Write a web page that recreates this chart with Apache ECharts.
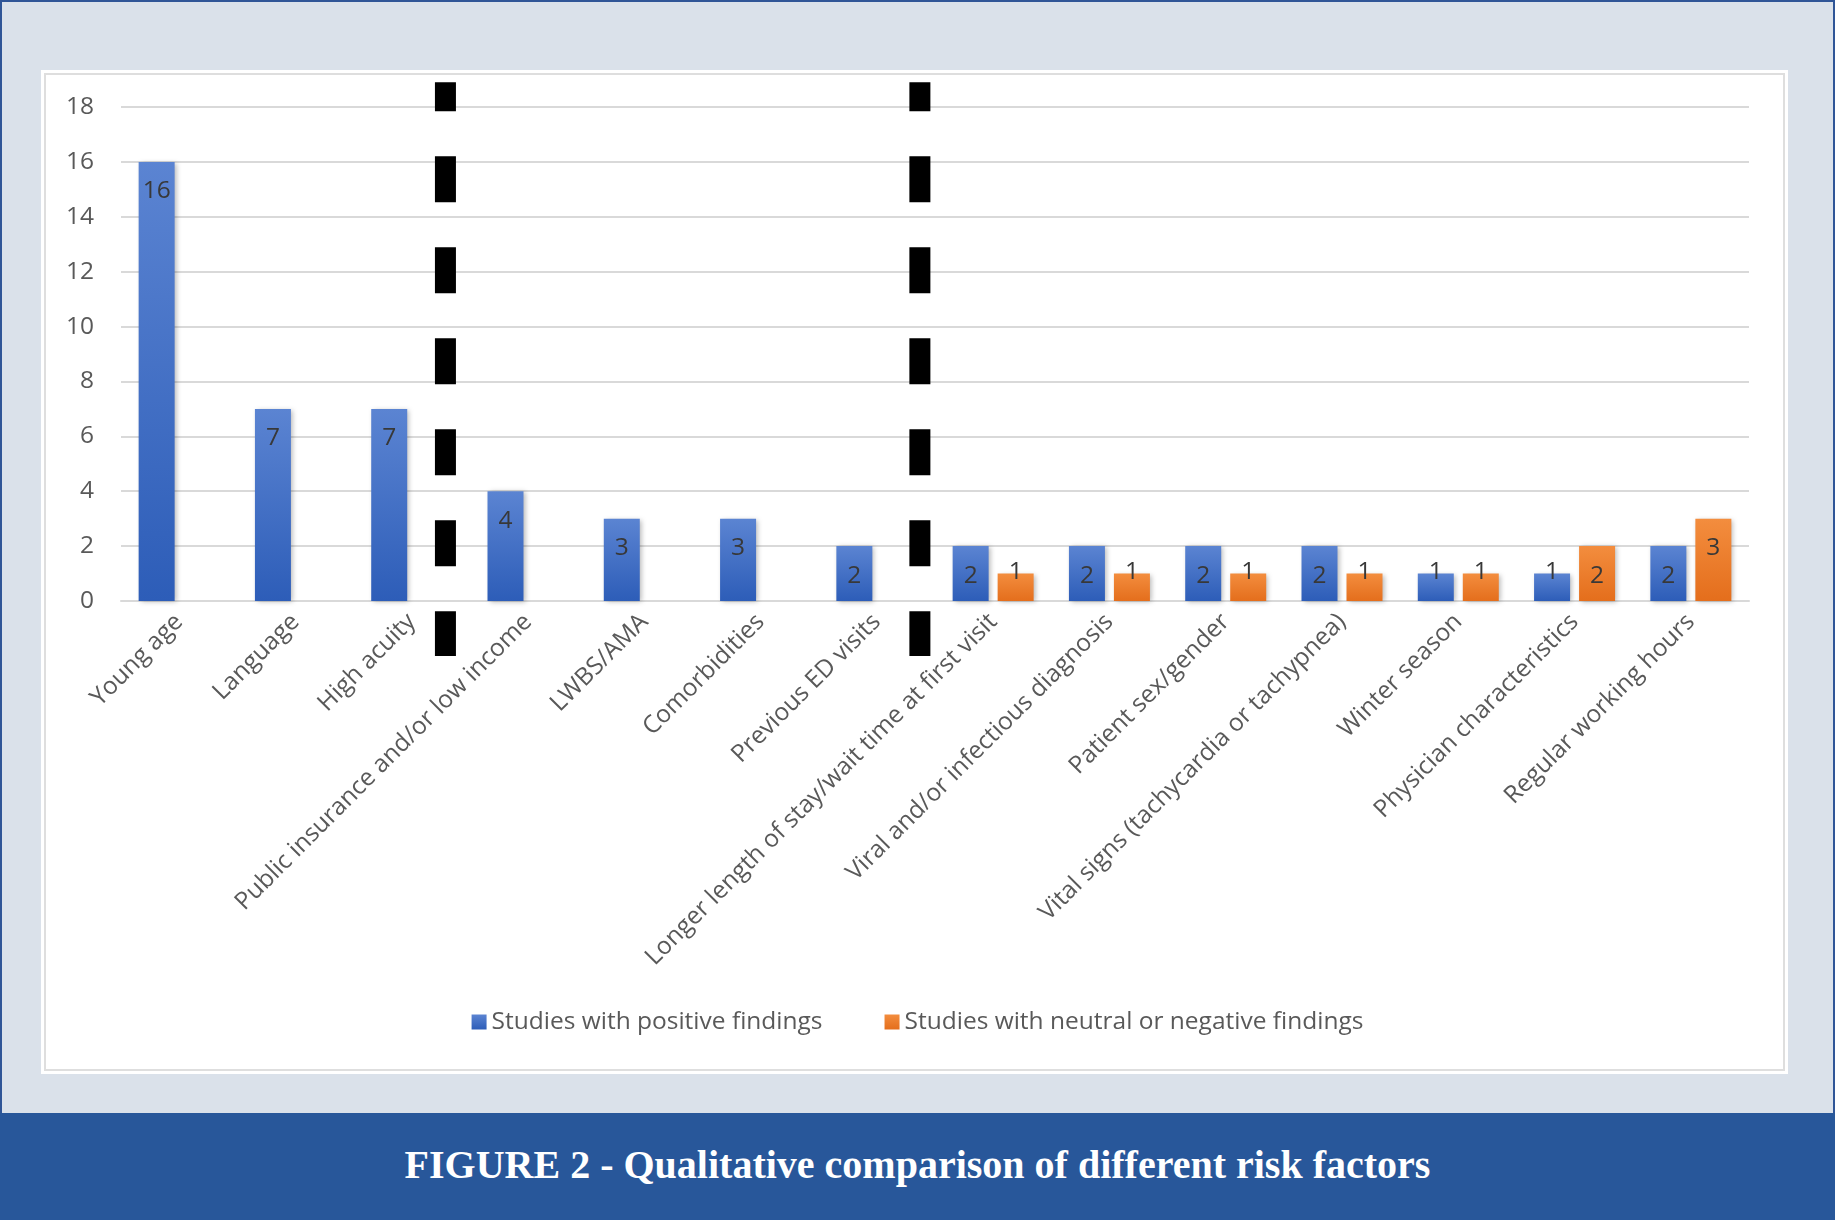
<!DOCTYPE html>
<html>
<head>
<meta charset="utf-8">
<script src="https://cdn.jsdelivr.net/npm/echarts@6/dist/echarts.min.js"></script>
<style>
    html, body {
        margin: 0;
        padding: 0;
        width: 1835px;
        height: 1220px;
        overflow: hidden;
    }
    #page {
        position: relative;
        width: 1835px;
        height: 1220px;
        box-sizing: border-box;
        background: #dae1ea;
        border: 2px solid #2f5597;
    }
    #panel {
        position: absolute;
        left: 39px;
        top: 68px;
        width: 1747px;
        height: 1004px;
        background: #ffffff;
        box-sizing: border-box;
        padding: 3px;
    }
    #panel-inner {
        width: 100%;
        height: 100%;
        box-sizing: border-box;
        border: 2px solid #dedede;
    }
    #banner {
        position: absolute;
        left: -2px;
        right: -2px;
        top: 1111px;
        bottom: -2px;
        background: #28579a;
        color: #ffffff;
        font-family: "Liberation Serif", serif;
        font-weight: bold;
        font-size: 40px;
        display: flex;
        align-items: center;
        justify-content: center;
        padding-bottom: 4px;
        box-sizing: border-box;
    }
    #chart-container {
        position: absolute;
        left: -2px;
        top: -2px;
        width: 1835px;
        height: 1220px;
    }
</style>
</head>
<body>
<div id="page">
    <div id="panel"><div id="panel-inner"></div></div>
    <div id="banner">FIGURE 2 - Qualitative comparison of different risk factors</div>
    <div id="chart-container"></div>
</div>
<script>
    // chart data
    const categories = [
        'Young age',
        'Language',
        'High acuity',
        'Public insurance and/or low income',
        'LWBS/AMA',
        'Comorbidities',
        'Previous ED visits',
        'Longer length of stay/wait time at first visit',
        'Viral and/or infectious diagnosis',
        'Patient sex/gender',
        'Vital signs (tachycardia or tachypnea)',
        'Winter season',
        'Physician characteristics',
        'Regular working hours'
    ];
    const positive = [16, 7, 7, 4, 3, 3, 2, 2, 2, 2, 2, 1, 1, 2];
    const neutral = [null, null, null, null, null, null, null, 1, 1, 1, 1, 1, 2, 3];
    const seriesNames = ['Studies with positive findings', 'Studies with neutral or negative findings'];
    const yTicks = { min: 0, max: 18, interval: 2 };

    // dashed separators, in bands counted from the first category centre
    const dividerPos = [2.29, 6.37];
    const dividerRange = [18.9, -2.0];

    const font = 'Open Sans';

    function barItems(values) {
        return values.map(function (v) {
            if (v === null) return null;
            if (v <= 1) {
                return { value: v, label: { distance: -14 } };
            }
            return v;
        });
    }

    function grad(top, bottom) {
        return new echarts.graphic.LinearGradient(0, 0, 0, 1, [
            { offset: 0, color: top },
            { offset: 1, color: bottom }
        ]);
    }

    var dom = document.getElementById('chart-container');
    var myChart = echarts.init(dom, null, {
        renderer: 'canvas',
        useDirtyRect: false
    });

    var barLabel = {
        show: true,
        position: 'insideTop',
        distance: 17,
        color: '#383838',
        fontFamily: font,
        fontSize: 24.5
    };

    var option = {
        animation: false,
        backgroundColor: 'transparent',
        color: ['#4472c4', '#ed7d31'],
        textStyle: { fontFamily: font },
        legend: {
            left: 'center',
            top: 1003,
            icon: 'rect',
            itemWidth: 15,
            itemHeight: 15,
            itemGap: 62,
            textStyle: {
                color: '#595959',
                fontFamily: font,
                fontSize: 24.5,
                lineHeight: 28
            },
            data: seriesNames
        },
        grid: {
            left: 121,
            right: 86,
            top: 107,
            bottom: 619,
            containLabel: false
        },
        xAxis: {
            type: 'category',
            data: categories,
            axisLine: { lineStyle: { color: '#d9d9d9', width: 2 } },
            axisTick: { show: false },
            axisLabel: {
                interval: 0,
                rotate: 45,
                margin: 17,
                color: '#595959',
                fontFamily: font,
                fontSize: 24.5
            }
        },
        yAxis: {
            type: 'value',
            min: yTicks.min,
            max: yTicks.max,
            interval: yTicks.interval,
            axisLine: { show: false },
            axisTick: { show: false },
            splitLine: { lineStyle: { color: '#d9d9d9', width: 2 } },
            axisLabel: {
                margin: 27,
                color: '#595959',
                fontFamily: font,
                fontSize: 24.5
            }
        },
        series: [
            {
                name: seriesNames[0],
                type: 'bar',
                barWidth: 36,
                barGap: '25%',
                data: barItems(positive),
                label: barLabel,
                itemStyle: {
                    color: grad('#5b84d2', '#2d5db8'),
                    shadowBlur: 5,
                    shadowColor: 'rgba(0, 0, 0, 0.28)',
                    shadowOffsetX: 2,
                    shadowOffsetY: 1
                }
            },
            {
                name: seriesNames[1],
                type: 'bar',
                barWidth: 36,
                barGap: '25%',
                data: barItems(neutral),
                label: barLabel,
                itemStyle: {
                    color: grad('#f38d3e', '#e46e1c'),
                    shadowBlur: 5,
                    shadowColor: 'rgba(0, 0, 0, 0.28)',
                    shadowOffsetX: 2,
                    shadowOffsetY: 1
                }
            }
        ]
    };

    if (option && typeof option === 'object') {
        myChart.setOption(option);
    }

    // draw the black dashed dividers from axis positions
    var c0 = myChart.convertToPixel({ xAxisIndex: 0 }, categories[0]);
    var c1 = myChart.convertToPixel({ xAxisIndex: 0 }, categories[1]);
    var band = c1 - c0;
    var yTop = myChart.convertToPixel({ yAxisIndex: 0 }, dividerRange[0]);
    var yBot = myChart.convertToPixel({ yAxisIndex: 0 }, dividerRange[1]);

    myChart.setOption({
        graphic: dividerPos.map(function (p) {
            var x = c0 + p * band;
            return {
                type: 'line',
                z: 100,
                shape: { x1: x, y1: yTop, x2: x, y2: yBot },
                style: {
                    stroke: '#000000',
                    lineWidth: 21,
                    lineDash: [46, 45],
                    lineDashOffset: 17,
                    lineCap: 'butt'
                }
            };
        })
    });

    window.addEventListener('resize', myChart.resize);
</script>
</body>
</html>
